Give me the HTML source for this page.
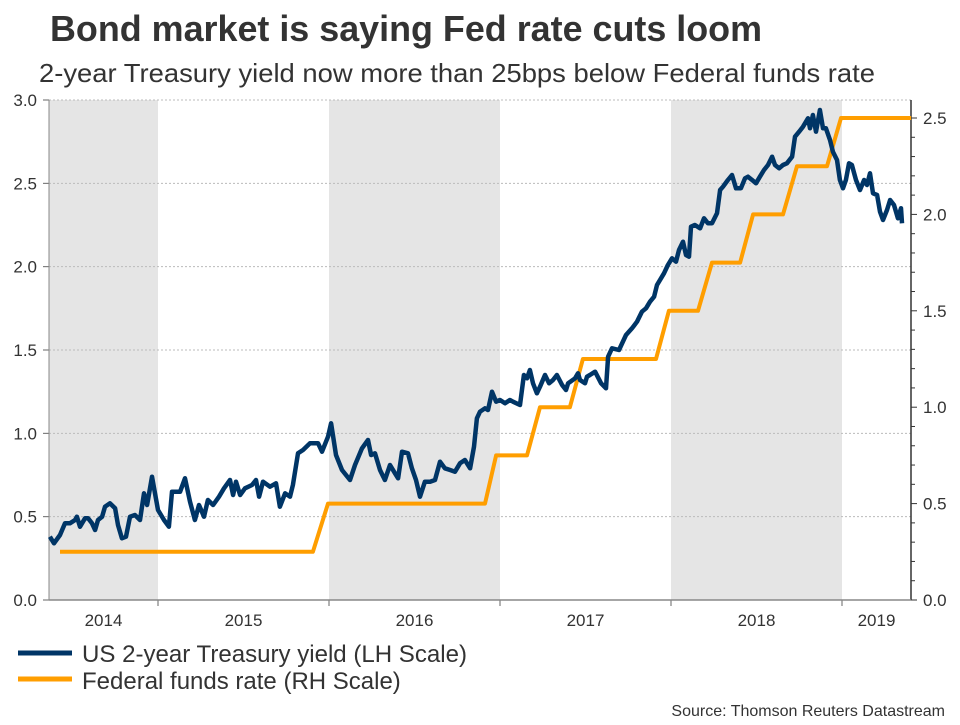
<!DOCTYPE html>
<html><head><meta charset="utf-8"><style>
body{margin:0;background:#fff;width:960px;height:720px;overflow:hidden;font-family:"Liberation Sans",sans-serif}
</style></head><body>
<svg width="960" height="720" font-family="Liberation Sans, sans-serif">
<text x="50" y="41" font-size="36" font-weight="bold" fill="#333" textLength="712" lengthAdjust="spacingAndGlyphs">Bond market is saying Fed rate cuts loom</text>
<text x="39" y="82" font-size="26" fill="#333" textLength="836" lengthAdjust="spacingAndGlyphs">2-year Treasury yield now more than 25bps below Federal funds rate</text>
<g id="bands"></g><g id="grid"></g><g id="axes"></g>
<polyline id="fed" fill="none" stroke="#FF9E00" stroke-width="4" stroke-linejoin="round"/>
<polyline id="yld" fill="none" stroke="#003566" stroke-width="4.5" stroke-linejoin="round"/>
<g>
<line x1="18" y1="653" x2="72" y2="653" stroke="#003566" stroke-width="5"/>
<text x="82" y="662" font-size="24" fill="#333" textLength="385" lengthAdjust="spacingAndGlyphs">US 2-year Treasury yield (LH Scale)</text>
<line x1="18" y1="679" x2="72" y2="679" stroke="#FF9E00" stroke-width="5"/>
<text x="82" y="689" font-size="24" fill="#333">Federal funds rate (RH Scale)</text>
</g>
<text x="945" y="716" font-size="16" fill="#333" text-anchor="end">Source: Thomson Reuters Datastream</text>
</svg>
<script>
const years=[2014,2015,2016,2017,2018,2019];
const leftTicks=[0,0.5,1,1.5,2,2.5,3];
const rightTicks=[0,0.5,1,1.5,2,2.5];
const yDates=[2014.368,2014.392,2014.427,2014.456,2014.485,2014.515,2014.526,2014.544,2014.573,2014.591,2014.614,2014.632,2014.649,2014.673,2014.690,2014.719,2014.749,2014.766,2014.789,2014.813,2014.836,2014.865,2014.895,2014.918,2014.936,2014.965,2015.000,2015.035,2015.064,2015.082,2015.129,2015.158,2015.187,2015.216,2015.240,2015.269,2015.292,2015.322,2015.357,2015.386,2015.421,2015.439,2015.456,2015.480,2015.509,2015.550,2015.573,2015.591,2015.614,2015.655,2015.690,2015.713,2015.743,2015.772,2015.789,2015.819,2015.848,2015.889,2015.936,2015.959,2015.994,2016.012,2016.041,2016.076,2016.123,2016.152,2016.193,2016.228,2016.246,2016.269,2016.298,2016.327,2016.357,2016.386,2016.404,2016.427,2016.462,2016.485,2016.509,2016.532,2016.561,2016.591,2016.620,2016.649,2016.678,2016.708,2016.737,2016.766,2016.795,2016.825,2016.848,2016.865,2016.883,2016.912,2016.930,2016.953,2016.977,2017.000,2017.029,2017.058,2017.076,2017.117,2017.140,2017.158,2017.175,2017.193,2017.216,2017.234,2017.263,2017.287,2017.310,2017.333,2017.363,2017.386,2017.398,2017.439,2017.456,2017.468,2017.497,2017.509,2017.526,2017.556,2017.591,2017.620,2017.632,2017.655,2017.696,2017.737,2017.772,2017.801,2017.830,2017.854,2017.877,2017.901,2017.918,2017.959,2017.982,2018.006,2018.029,2018.047,2018.070,2018.088,2018.105,2018.117,2018.140,2018.170,2018.193,2018.216,2018.240,2018.269,2018.287,2018.304,2018.333,2018.357,2018.380,2018.409,2018.433,2018.450,2018.474,2018.497,2018.520,2018.544,2018.567,2018.591,2018.608,2018.632,2018.655,2018.678,2018.708,2018.725,2018.749,2018.772,2018.801,2018.813,2018.830,2018.848,2018.871,2018.889,2018.906,2018.930,2018.947,2018.971,2018.988,2019.006,2019.023,2019.041,2019.058,2019.082,2019.105,2019.129,2019.146,2019.164,2019.181,2019.205,2019.222,2019.240,2019.263,2019.281,2019.304,2019.327,2019.345,2019.351,2019.363];
const yVals=[0.38,0.34,0.39,0.46,0.46,0.48,0.50,0.44,0.49,0.49,0.46,0.42,0.48,0.50,0.56,0.58,0.55,0.45,0.37,0.38,0.50,0.51,0.48,0.64,0.57,0.74,0.54,0.48,0.44,0.65,0.65,0.73,0.59,0.48,0.57,0.50,0.60,0.57,0.62,0.67,0.72,0.63,0.71,0.63,0.67,0.69,0.72,0.62,0.71,0.68,0.70,0.56,0.64,0.62,0.69,0.88,0.90,0.94,0.94,0.89,0.98,1.06,0.87,0.78,0.72,0.81,0.91,0.96,0.87,0.88,0.78,0.72,0.81,0.76,0.73,0.89,0.88,0.79,0.72,0.62,0.71,0.71,0.72,0.83,0.79,0.78,0.77,0.82,0.84,0.79,0.92,1.09,1.13,1.15,1.14,1.25,1.19,1.20,1.18,1.20,1.19,1.17,1.35,1.33,1.38,1.30,1.24,1.28,1.35,1.30,1.32,1.35,1.29,1.26,1.30,1.33,1.36,1.32,1.30,1.34,1.35,1.37,1.30,1.27,1.46,1.51,1.50,1.59,1.63,1.67,1.73,1.75,1.79,1.82,1.89,1.96,2.01,2.05,2.03,2.10,2.15,2.07,2.06,2.24,2.25,2.23,2.29,2.26,2.26,2.32,2.46,2.48,2.52,2.55,2.47,2.47,2.53,2.54,2.52,2.50,2.54,2.58,2.61,2.66,2.61,2.59,2.61,2.62,2.66,2.78,2.81,2.84,2.89,2.83,2.91,2.81,2.94,2.83,2.83,2.76,2.69,2.64,2.52,2.47,2.52,2.62,2.61,2.52,2.46,2.52,2.49,2.56,2.44,2.43,2.33,2.28,2.34,2.40,2.37,2.29,2.35,2.26];
const fedDates=[2014.427,2015.906,2015.994,2016.912,2016.977,2017.158,2017.234,2017.409,2017.485,2017.912,2017.988,2018.158,2018.240,2018.404,2018.480,2018.655,2018.737,2018.912,2018.994,2019.404];
const fedVals=[0.25,0.25,0.5,0.5,0.75,0.75,1.0,1.0,1.25,1.25,1.5,1.5,1.75,1.75,2.0,2.0,2.25,2.25,2.5,2.5];

const NS="http://www.w3.org/2000/svg";
const L=49,R=911,T=100,B=600;
const x=t=>158+(t-2015)*171;
const yl=v=>B-v*(B-T)/3;
const yr=v=>B-v*192.8;
function mk(tag,attrs,parent){const e=document.createElementNS(NS,tag);for(const k in attrs)e.setAttribute(k,attrs[k]);document.getElementById(parent).appendChild(e);return e;}
years.forEach((yr0,i)=>{
  const a=Math.max(L,x(yr0)),b=Math.min(R,x(yr0+1));
  if(i%2===0){const r=mk('rect',{x:a,y:T,width:b-a,height:B-T,fill:'#E5E5E5'},'bands');
    
    }
  const tx=mk('text',{x:(a+b)/2,y:626,'font-size':17,fill:'#333','text-anchor':'middle'},'axes');tx.textContent=yr0;
  
  
  if(i>0){const tk=mk('line',{x1:x(yr0),x2:x(yr0),y1:B,y2:B+6,stroke:'#666'},'axes');
    
    }
});
leftTicks.forEach(v=>{
  if(v>0){const g=mk('line',{x1:L,x2:R,y1:yl(v),y2:yl(v),stroke:'#bbb','stroke-dasharray':'2,2'},'grid');
    
    }
  mk('line',{x1:L-6,x2:L,y1:yl(v),y2:yl(v),stroke:'#666'},'axes');
  const t=mk('text',{x:37,y:yl(v)+6,'font-size':17,fill:'#333','text-anchor':'end'},'axes');t.textContent=v.toFixed(1);
  
  
});
for(let k=0;k<=25;k++){const v=k/10;mk('line',{x1:R,x2:R+(k%5===0?6:4),y1:yr(v),y2:yr(v),stroke:'#333'},'axes');}
rightTicks.forEach(v=>{
  const t=mk('text',{x:923,y:yr(v)+6,'font-size':17,fill:'#333'},'axes');t.textContent=v.toFixed(1);
  
  
});
const la=mk('line',{x1:L,x2:L,y1:T,y2:B,stroke:'#888'},'axes');


const ra=mk('line',{x1:R,x2:R,y1:T,y2:B,stroke:'#333','stroke-width':1.5},'axes');


const ba=mk('line',{x1:L,x2:R,y1:B,y2:B,stroke:'#888','stroke-width':1.5},'axes');


document.getElementById('yld').setAttribute('points',yDates.map((d,i)=>x(d).toFixed(1)+','+yl(yVals[i]).toFixed(1)).join(' '));
document.getElementById('fed').setAttribute('points',fedDates.map((d,i)=>x(d).toFixed(1)+','+yr(fedVals[i]).toFixed(1)).join(' '));
</script>
</body></html>
